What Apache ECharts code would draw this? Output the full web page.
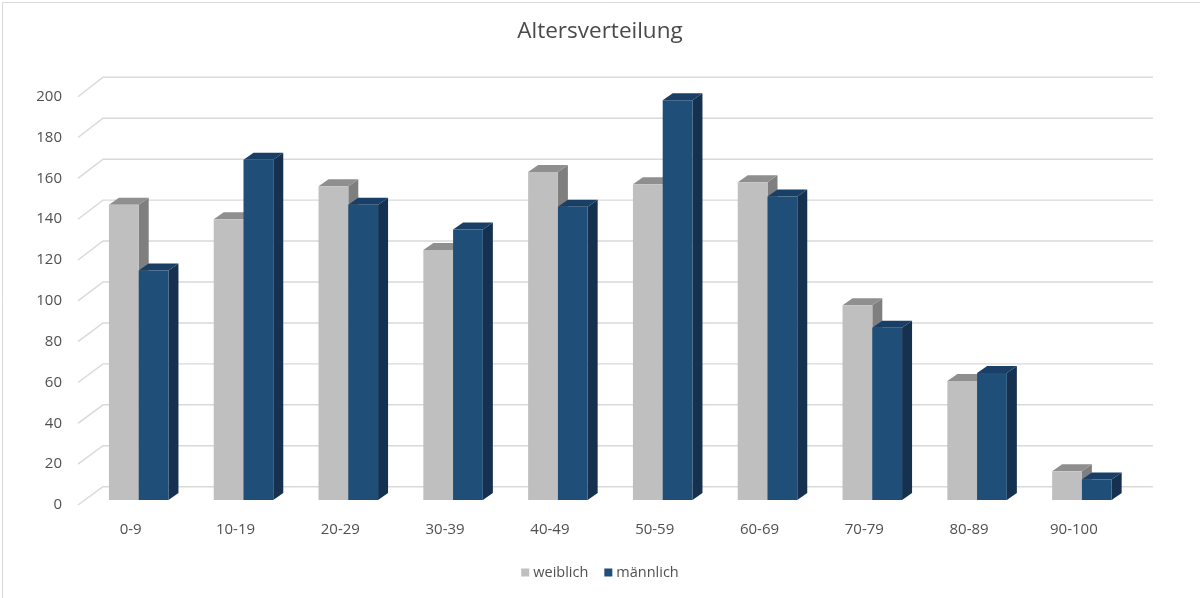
<!DOCTYPE html>
<html>
<head>
<meta charset="utf-8">
<script src="https://cdn.jsdelivr.net/npm/echarts@6/dist/echarts.min.js"></script>
<style>
html,body{margin:0;padding:0;background:#fff;}
#chart{width:1200px;height:598px;}
</style>
</head>
<body>
<div id="chart"></div>
<script>
// ---- data ----
const categories = ['0-9','10-19','20-29','30-39','40-49','50-59','60-69','70-79','80-89','90-100'];
const weiblich = [144, 137, 153, 122, 160, 154, 155, 95, 58, 14];
const maennlich = [112, 166, 144, 132, 143, 195, 148, 84, 62, 10];
const yTicks = [0, 20, 40, 60, 80, 100, 120, 140, 160, 180, 200];
const seriesNames = ['weiblich', 'männlich'];

// ---- style ----
const FONT = 'Open Sans';
const TEXT = '#505050';
const GRIDC = '#D9D9D9';
const faces = [
  { front: '#BFBFBF', top: '#8F8F8F', side: '#7F7F7F' },
  { front: '#1F4E79', top: '#193F66', side: '#15314F' }
];
const DEPTH_X = 10, DEPTH_Y = -7;

const chart = echarts.init(document.getElementById('chart'));

function barRenderer(sIdx) {
  return function (params, api) {
    const i = api.value(0), v = api.value(1);
    const base = api.coord([i, 0]);
    const top = api.coord([i, v]);
    const band = api.size([1, 0])[0];
    const w = band * 0.284;
    const x0 = sIdx === 0 ? base[0] - w : base[0];
    const ty = top[1], by = base[1];
    const c = faces[sIdx];
    return {
      type: 'group',
      children: [
        { type: 'polygon', shape: { points: [[x0 + w, ty], [x0 + w + DEPTH_X, ty + DEPTH_Y], [x0 + w + DEPTH_X, by + DEPTH_Y], [x0 + w, by]] }, style: { fill: c.side } },
        { type: 'polygon', shape: { points: [[x0, ty], [x0 + w, ty], [x0 + w + DEPTH_X, ty + DEPTH_Y], [x0 + DEPTH_X, ty + DEPTH_Y]] }, style: { fill: c.top } },
        { type: 'rect', shape: { x: x0, y: ty, width: w, height: by - ty }, style: { fill: c.front } }
      ]
    };
  };
}

const option = {
  backgroundColor: '#fff',
  animation: false,
  title: {
    text: 'Altersverteilung',
    left: 'center',
    top: 20,
    padding: 0,
    textStyle: { fontFamily: FONT, fontSize: 22.5, fontWeight: 'normal', color: '#4a4a4a' }
  },
  legend: {
    data: seriesNames,
    left: 'center',
    top: 560,
    icon: 'rect',
    itemWidth: 8,
    itemHeight: 8,
    itemGap: 16,
    textStyle: { fontFamily: FONT, fontSize: 14.5, color: TEXT, padding: [0, 0, 0, -1] }
  },
  graphic: [{
    type: 'rect', left: 0, top: 0,
    shape: { x: 0.5, y: 0.5, width: 1198, height: 596 },
    style: { fill: 'none', stroke: GRIDC, lineWidth: 1 }, silent: true
  }],
  grid: [
    { left: 78, right: 72, top: 96.7, bottom: 93 },   // front floor plane (labels + wall lines)
    { left: 86.3, right: 65.7, top: 90, bottom: 98 }  // bar front plane
  ],
  xAxis: [
    { gridIndex: 0, type: 'value', min: 0, max: 1, show: false },
    {
      gridIndex: 1, type: 'category', data: categories,
      axisLine: { show: false }, axisTick: { show: false },
      axisLabel: { margin: 22, fontFamily: FONT, fontSize: 15, color: TEXT, padding: [0, 16, 0, 0] }
    }
  ],
  yAxis: [
    {
      gridIndex: 0, type: 'value', min: 0, max: 200, interval: 20,
      axisLine: { show: false }, axisTick: { show: false }, splitLine: { show: false },
      axisLabel: { margin: 16, fontFamily: FONT, fontSize: 15, color: TEXT, padding: [6, 0, 0, 0] }
    },
    { gridIndex: 1, type: 'value', min: 0, max: 200, interval: 20, show: false, splitLine: { show: false } }
  ],
  series: [
    {
      type: 'custom', name: 'walls', xAxisIndex: 0, yAxisIndex: 0, z: 1, silent: true,
      data: yTicks.map(v => [0, v]),
      renderItem: function (params, api) {
        const v = api.value(1);
        const p0 = api.coord([0, v]);
        const p1 = api.coord([1, v]);
        const dy = -(18.3 + 1.1 * v / 200);
        return {
          type: 'polyline',
          shape: { points: [[p0[0], p0[1]], [p0[0] + 25, p0[1] + dy], [p1[0] + 25, p1[1] + dy]] },
          style: { stroke: GRIDC, lineWidth: 1.4, fill: 'none' }
        };
      }
    },
    {
      type: 'custom', name: seriesNames[0], xAxisIndex: 1, yAxisIndex: 1, z: 2,
      itemStyle: { color: faces[0].front },
      data: weiblich.map((v, i) => [i, v]),
      renderItem: barRenderer(0)
    },
    {
      type: 'custom', name: seriesNames[1], xAxisIndex: 1, yAxisIndex: 1, z: 3,
      itemStyle: { color: faces[1].front },
      data: maennlich.map((v, i) => [i, v]),
      renderItem: barRenderer(1)
    }
  ]
};
chart.setOption(option);
</script>
</body>
</html>
